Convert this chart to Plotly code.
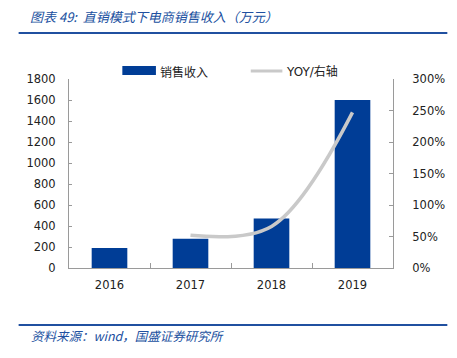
import plotly.graph_objects as go

years = ["2016", "2017", "2018", "2019"]
sales = [190, 278, 472, 1600]
yoy_years = ["2017", "2018", "2019"]
yoy = [0.52, 0.66, 2.47]
left_ticks = [0, 200, 400, 600, 800, 1000, 1200, 1400, 1600, 1800]
right_ticks = [0, 0.5, 1.0, 1.5, 2.0, 2.5, 3.0]
right_labels = ["0%", "50%", "100%", "150%", "200%", "250%", "300%"]

BLUE = "#003d96"
GRAY = "#c9c9c9"
TXT_BLUE = "#2050a0"
AX = "#9a9a9a"
FONT = "DejaVu Sans, Verdana, sans-serif"
CJK = "Noto Sans CJK SC, sans-serif"

# page has an 8px body margin; figure is sized/offset to compensate
OFF = 8
PW, PH = 457, 358
W, H = PW - OFF, PH - OFF
# plot area in page coordinates
PL, PR, PT, PB = 69, 397, 79, 268
L, R, T, B = PL - OFF, W - (PR - OFF), PT - OFF, H - (PB - OFF)

fig = go.Figure()
fig.add_trace(go.Bar(x=years, y=sales, marker=dict(color=BLUE, line=dict(width=0)),
                     width=0.44, name="销售收入", showlegend=False))
fig.add_trace(go.Scatter(x=yoy_years, y=yoy, yaxis="y2", mode="lines",
                         line=dict(color=GRAY, width=3.5, shape="spline", smoothing=1.0),
                         name="YOY/右轴", showlegend=False))

fig.update_layout(
    width=W, height=H,
    margin=dict(l=L, r=R, t=T, b=B),
    paper_bgcolor="white", plot_bgcolor="white",
    font=dict(family=FONT, size=11, color="#222"),
    xaxis=dict(type="category", showline=True, linecolor=AX, linewidth=1,
               ticks="inside", ticklen=5, tickcolor=AX, tickson="boundaries",
               showgrid=False, tickfont=dict(size=11.5, color="#222"),
               ticklabelstandoff=6, range=[-0.5, 3.5]),
    yaxis=dict(range=[0, 1800], tickvals=left_ticks, showline=True, linecolor=AX,
               ticks="inside", ticklen=3, tickcolor=AX, showgrid=False, zeroline=False,
               ticklabelstandoff=10, tickfont=dict(size=11.5, color="#222")),
    yaxis2=dict(range=[0, 3], overlaying="y", side="right", tickvals=right_ticks,
                ticktext=right_labels, showline=True, linecolor=AX,
                ticks="inside", ticklen=4, tickcolor=AX, showgrid=False, zeroline=False,
                ticklabelstandoff=16, tickfont=dict(size=11.5, color="#222")),
)

def pxp(x):  # page x -> paper
    return (x - PL) / (PR - PL)

def pyp(y):  # page y -> paper
    return (PB - y) / (PB - PT)

shapes = [
    dict(type="line", xref="paper", yref="paper", x0=pxp(18), x1=pxp(452),
         y0=pyp(33), y1=pyp(33), line=dict(color=TXT_BLUE, width=2)),
    dict(type="line", xref="paper", yref="paper", x0=pxp(18), x1=pxp(452),
         y0=pyp(325), y1=pyp(325), line=dict(color=TXT_BLUE, width=2)),
    dict(type="rect", xref="paper", yref="paper", x0=pxp(123), x1=pxp(157),
         y0=pyp(75), y1=pyp(66), fillcolor=BLUE, line=dict(width=0)),
    dict(type="line", xref="paper", yref="paper", x0=pxp(253), x1=pxp(285),
         y0=pyp(71), y1=pyp(71), line=dict(color=GRAY, width=3)),
]
fig.update_layout(shapes=shapes)

annotations = [
    dict(text="<i>图表 49:  直销模式下电商销售收入（万元）</i>", xref="paper", yref="paper",
         x=pxp(27), y=pyp(16), xanchor="left", yanchor="middle", showarrow=False,
         font=dict(family=CJK, size=13, color=TXT_BLUE)),
    dict(text="<i>资料来源：wind，国盛证券研究所</i>", xref="paper", yref="paper",
         x=pxp(28), y=pyp(335), xanchor="left", yanchor="middle", showarrow=False,
         font=dict(family=CJK, size=12.5, color=TXT_BLUE)),
    dict(text="销售收入", xref="paper", yref="paper", x=pxp(159), y=pyp(71),
         xanchor="left", yanchor="middle", showarrow=False,
         font=dict(family=CJK, size=12, color="#222")),
    dict(text="YOY/右轴", xref="paper", yref="paper", x=pxp(287), y=pyp(71),
         xanchor="left", yanchor="middle", showarrow=False,
         font=dict(family=FONT + ", " + CJK, size=12, color="#222")),
]
fig.update_layout(annotations=annotations)

fig.write_html("out.html")
